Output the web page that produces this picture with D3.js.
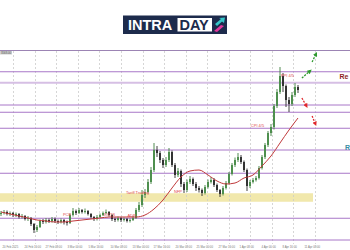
<!DOCTYPE html>
<html>
<head>
<meta charset="utf-8">
<script src="https://cdn.jsdelivr.net/npm/d3@7"></script>
<style>
  body { margin: 0; background: #fff; }
  svg { display: block; }
</style>
</head>
<body>
<div id="container"></div>
<script>
/* CONSTANTS AND GLOBALS */
const width = 350,
  height = 250

// candle closes / highs / lows (gold, H4), open = previous close
const closes = [2916, 2920, 2912, 2916, 2908, 2912, 2900, 2904, 2892, 2896,
  2872, 2848, 2860, 2884, 2880, 2888, 2884, 2892, 2884, 2880,
  2888, 2880, 2876, 2908, 2924, 2916, 2928, 2920, 2924, 2912,
  2900, 2892, 2900, 2908, 2916, 2920, 2908, 2892, 2888, 2896,
  2888, 2892, 2884, 2888, 2896, 2928, 2948, 2988, 3000, 3040,
  3088, 3168, 3156, 3128, 3108, 3128, 3160, 3108, 3068, 3084,
  3032, 3008, 3040, 3052, 3032, 3016, 3008, 2996, 3020, 3040,
  3048, 3028, 3008, 2992, 3016, 3036, 3072, 3108, 3128, 3140,
  3120, 3088, 3024, 3040, 3048, 3056, 3096, 3140, 3188, 3236,
  3260, 3344, 3400, 3464, 3424, 3368, 3352, 3388, 3420, 3408]
const highs = [2924, 2928, 2926, 2922, 2920, 2918, 2916, 2912, 2908, 2904,
  2900, 2876, 2868, 2890, 2892, 2896, 2894, 2900, 2898, 2890,
  2894, 2892, 2886, 2914, 2936, 2930, 2936, 2932, 2934, 2928,
  2916, 2904, 2908, 2914, 2922, 2930, 2924, 2912, 2898, 2902,
  2900, 2898, 2896, 2894, 2904, 2936, 2960, 3008, 3012, 3052,
  3100, 3196, 3184, 3164, 3136, 3140, 3176, 3166, 3116, 3096,
  3090, 3040, 3050, 3064, 3058, 3040, 3024, 3014, 3028, 3050,
  3060, 3056, 3034, 3012, 3024, 3044, 3080, 3116, 3138, 3156,
  3148, 3126, 3094, 3048, 3056, 3064, 3104, 3148, 3196, 3244,
  3272, 3352, 3412, 3500, 3476, 3430, 3380, 3400, 3436, 3428]
const lows = [2904, 2910, 2906, 2904, 2900, 2900, 2894, 2894, 2886, 2884,
  2864, 2836, 2840, 2856, 2872, 2874, 2876, 2878, 2876, 2872,
  2874, 2870, 2866, 2872, 2902, 2908, 2912, 2914, 2914, 2906,
  2894, 2884, 2886, 2896, 2904, 2910, 2902, 2884, 2880, 2882,
  2880, 2882, 2878, 2878, 2884, 2892, 2920, 2940, 2976, 2994,
  3032, 3080, 3140, 3116, 3096, 3100, 3120, 3100, 3056, 3060,
  3020, 2996, 3000, 3032, 3024, 3004, 2998, 2984, 2990, 3014,
  3034, 3020, 3000, 2980, 2986, 3010, 3030, 3066, 3100, 3120,
  3112, 3080, 3004, 3016, 3034, 3042, 3050, 3090, 3132, 3180,
  3224, 3250, 3336, 3392, 3400, 3340, 3320, 3344, 3380, 3396]
const firstOpen = 2912

// moving average, every 3rd candle
const maIndex = [0, 3, 6, 9, 12, 15, 18, 21, 24, 27, 30, 33, 36, 39, 42, 45, 48,
  51, 54, 57, 60, 63, 66, 69, 72, 75, 78, 81, 84, 87, 90, 93, 96, 99]
const maValues = [2920, 2912, 2904, 2896, 2888, 2884, 2880, 2880, 2884, 2888,
  2892, 2896, 2900, 2900, 2900, 2900, 2908, 2932, 2968, 3016,
  3060, 3084, 3088, 3068, 3044, 3032, 3036, 3056, 3068, 3104,
  3144, 3196, 3248, 3296]

// horizontal levels
const levels = [3481, 3348, 3319, 3255, 3168, 3075, 2895, 2808]
const lightLevel = 3437
const zone = [2961, 2995]

// date labels on the time axis
const dateLabels = ["20 Feb 2025", "24 Feb 16:00", "27 Feb 08:00", "3 Mar 00:00",
  "5 Mar 16:00", "10 Mar 08:00", "13 Mar 00:00", "17 Mar 16:00", "20 Mar 08:00",
  "25 Mar 00:00", "27 Mar 16:00", "1 Apr 08:00", "4 Apr 00:00", "8 Apr 16:00",
  "11 Apr 08:00"]

// news events: [label, candle index, price]
const events = [
  ["PCE", 22, 2905],
  ["JOLTS", 36, 2905],
  ["ADP", 43.5, 2900],
  ["Tariff Trading", 45.5, 2994],
  ["NFP", 59, 2998],
  ["CPI 4/5", 85.5, 3262],
  ["PPI 4/5", 95.5, 3462]
]

// forecast arrows: [from index, from price, to index, to price, kind]
const arrows = [
  [100.3, 3456, 103, 3484, "up"],
  [103.7, 3520, 105, 3552, "up"],
  [100.3, 3376, 101.8, 3344, "down"],
  [103.7, 3304, 104.8, 3272, "down"]
]

let svg, xScale, yScale

init()

function init() {
  svg = d3.select("#container")
    .append("svg")
    .attr("width", width)
    .attr("height", height)

  xScale = d3.scaleLinear()
    .domain([0, 99])
    .range([1, 298])

  yScale = d3.scaleLinear()
    .domain([2788, 3568])
    .range([245, 50])

  const font = "Liberation Sans, Arial, sans-serif"

  // logo
  const logo = svg.append("g")
  logo.append("rect")
    .attr("x", 123).attr("y", 15.5).attr("width", 104).attr("height", 18.5)
    .attr("fill", "#1d2b4c")
  logo.append("rect")
    .attr("x", 177.5).attr("y", 18).attr("width", 34.5).attr("height", 13.5)
    .attr("fill", "#fff")
  logo.append("text")
    .attr("x", 128).attr("y", 30)
    .text("INTRA")
    .attr("fill", "#fff")
    .attr("font-family", font)
    .attr("font-weight", "bold")
    .attr("font-size", "14.5px")
  logo.append("text")
    .attr("x", 179.5).attr("y", 30)
    .text("DAY")
    .attr("fill", "#1d2b4c")
    .attr("font-family", font)
    .attr("font-weight", "bold")
    .attr("font-size", "14.5px")
  logo.append("polygon")
    .attr("points", "215,24 221,19 219,18 225,17.5 224,23 222,21.5 217,26")
    .attr("fill", "#35c6c9")
  logo.append("polygon")
    .attr("points", "214,31 221,25 224,26 217,32")
    .attr("fill", "#e2379c")

  // chart frame top
  svg.append("line")
    .attr("x1", 0).attr("x2", width)
    .attr("y1", 50.5).attr("y2", 50.5)
    .attr("stroke", "#9c84b4").attr("stroke-width", 1)
  svg.append("rect")
    .attr("x", 0).attr("y", 51).attr("width", 12).attr("height", 3.5)
    .attr("fill", "#cfcfcf")
  svg.append("text")
    .attr("x", 1).attr("y", 54)
    .text("3568.00")
    .attr("font-size", "2.8px")
    .attr("font-family", font)
    .attr("fill", "#555")

  // yellow zone
  svg.append("rect")
    .attr("x", 0)
    .attr("y", yScale(zone[1]))
    .attr("width", 313)
    .attr("height", yScale(zone[0]) - yScale(zone[1]))
    .attr("fill", "#f1e8ac")

  // vertical grid + date labels
  const tickStart = 4.1, tickStep = 7.18
  dateLabels.forEach((lab, k) => {
    const x = Math.round(xScale(tickStart + k * tickStep)) + 0.5
    svg.append("line")
      .attr("x1", x).attr("x2", x)
      .attr("y1", 51).attr("y2", 244)
      .attr("stroke", "#cccccc")
      .attr("stroke-dasharray", "2,2")
      .attr("stroke-width", 0.8)
    svg.append("text")
      .attr("x", x - 11).attr("y", 247.5)
      .text(lab)
      .attr("font-size", "2.8px")
      .attr("font-family", font)
      .attr("fill", "#777")
  })

  // horizontal levels
  svg.append("line")
    .attr("x1", 0).attr("x2", width)
    .attr("y1", yScale(lightLevel)).attr("y2", yScale(lightLevel))
    .attr("stroke", "#d6bfe4").attr("stroke-width", 2)
  svg.selectAll("line.level")
    .data(levels)
    .join("line")
    .attr("class", "level")
    .attr("x1", 0).attr("x2", width)
    .attr("y1", d => yScale(d)).attr("y2", d => yScale(d))
    .attr("stroke", "#a877c8")
    .attr("stroke-width", 1)

  // candles
  const candles = closes.map((c, i) => ({
    i: i,
    open: i === 0 ? firstOpen : closes[i - 1],
    close: c,
    high: highs[i],
    low: lows[i]
  }))

  svg.selectAll("line.wick")
    .data(candles)
    .join("line")
    .attr("class", "wick")
    .attr("x1", d => xScale(d.i)).attr("x2", d => xScale(d.i))
    .attr("y1", d => yScale(d.high)).attr("y2", d => yScale(d.low))
    .attr("stroke", d => d.close >= d.open ? "#3f7f3f" : "#2b2b2b")
    .attr("stroke-width", 0.9)

  svg.selectAll("rect.body")
    .data(candles)
    .join("rect")
    .attr("class", "body")
    .attr("x", d => xScale(d.i) - 1)
    .attr("width", 2)
    .attr("y", d => yScale(Math.max(d.open, d.close)))
    .attr("height", d => Math.max(0.8, Math.abs(yScale(d.open) - yScale(d.close))))
    .attr("fill", d => d.close >= d.open ? "#4e8f4e" : "#333")

  // moving average
  const ma = d3.line()
    .x((d, k) => xScale(maIndex[k]))
    .y(d => yScale(d))
    .curve(d3.curveMonotoneX)
  svg.append("path")
    .datum(maValues)
    .attr("d", ma)
    .attr("fill", "none")
    .attr("stroke", "#c0393b")
    .attr("stroke-width", 1)

  // event labels
  svg.selectAll("text.event")
    .data(events)
    .join("text")
    .attr("class", "event")
    .attr("x", d => xScale(d[1]))
    .attr("y", d => yScale(d[2]))
    .attr("text-anchor", "middle")
    .text(d => d[0])
    .attr("font-size", "4px")
    .attr("font-family", font)
    .attr("fill", "#e0474a")

  // arrows
  const defs = svg.append("defs")
  const markers = [["up", "#2f9a2f"], ["down", "#e0282d"]]
  markers.forEach(([id, col]) => {
    defs.append("marker")
      .attr("id", "head-" + id)
      .attr("viewBox", "0 0 10 10")
      .attr("refX", 5).attr("refY", 5)
      .attr("markerWidth", 3.5).attr("markerHeight", 3.5)
      .attr("orient", "auto")
      .append("path")
      .attr("d", "M0,0 L10,5 L0,10 z")
      .attr("fill", col)
  })
  svg.selectAll("line.arrow")
    .data(arrows)
    .join("line")
    .attr("class", "arrow")
    .attr("x1", d => xScale(d[0])).attr("y1", d => yScale(d[1]))
    .attr("x2", d => xScale(d[2])).attr("y2", d => yScale(d[3]))
    .attr("stroke", d => d[4] === "up" ? "#2f9a2f" : "#e0282d")
    .attr("stroke-width", 1.3)
    .attr("stroke-dasharray", "2,1.2")
    .attr("marker-end", d => "url(#head-" + d[4] + ")")

  // level names, cut at the right edge as in the picture
  svg.append("text")
    .attr("x", 339.5).attr("y", 79)
    .text("Re")
    .attr("font-size", "7px")
    .attr("font-weight", "bold")
    .attr("font-family", font)
    .attr("fill", "#8e1f1f")
  svg.append("text")
    .attr("x", 345).attr("y", 149.5)
    .text("R")
    .attr("font-size", "7px")
    .attr("font-weight", "bold")
    .attr("font-family", font)
    .attr("fill", "#3a8ea3")
}
</script>
</body>
</html>
